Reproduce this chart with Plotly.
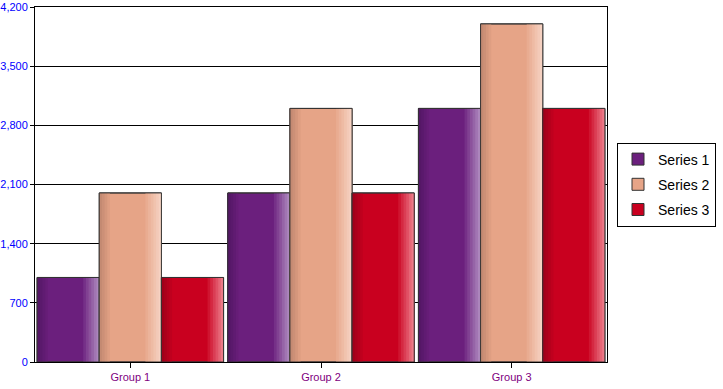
import plotly.graph_objects as go

categories = ["Group 1", "Group 2", "Group 3"]
series_names = ["Series 1", "Series 2", "Series 3"]
series1 = [1000, 2000, 3000]
series2 = [2000, 3000, 4000]
series3 = [1000, 2000, 3000]
y_ticks = [0, 700, 1400, 2100, 2800, 3500, 4200]

values = [series1, series2, series3]
main_colors = ["#6B1F7D", "#E6A487", "#C9001F"]
dark_colors = ["#551766", "#C48A72", "#A0001A"]
light_colors = ["#AC86BC", "#F6D2C2", "#EC7A88"]


def hex2rgb(h):
    h = h.lstrip("#")
    return tuple(int(h[k:k + 2], 16) for k in (0, 2, 4))


def mix(a, b, t):
    ra, rb = hex2rgb(a), hex2rgb(b)
    return "rgb(%d,%d,%d)" % tuple(round(ra[k] + (rb[k] - ra[k]) * t) for k in range(3))


bar_w = 0.326
start = -0.489
n_right = 6
n_left = 4
strip = 0.014
fig = go.Figure()
for i, (name, vals) in enumerate(zip(series_names, values)):
    off = start + i * bar_w
    fig.add_trace(go.Bar(x=categories, y=vals, name=name, width=bar_w, offset=off,
                         marker=dict(color=main_colors[i], line=dict(color="#333333", width=1)),
                         showlegend=True, legendgroup=name))
    # left darker gradient (widest/lightest first)
    for k in reversed(range(n_left)):
        t = 1 - k / n_left
        fig.add_trace(go.Bar(x=categories, y=vals, width=(k + 1) * strip, offset=off,
                             marker=dict(color=mix(main_colors[i], dark_colors[i], t), line=dict(width=0)),
                             showlegend=False, hoverinfo="skip", legendgroup=name))
    # right lighter gradient (widest/darkest first)
    for k in range(n_right):
        t = (k + 1) / n_right
        w = (n_right - k) * strip
        fig.add_trace(go.Bar(x=categories, y=vals, width=w, offset=off + bar_w - w,
                             marker=dict(color=mix(main_colors[i], light_colors[i], t), line=dict(width=0)),
                             showlegend=False, hoverinfo="skip", legendgroup=name))
    fig.add_trace(go.Bar(x=categories, y=vals, width=bar_w, offset=off,
                         marker=dict(color="rgba(0,0,0,0)", line=dict(color="#333333", width=1)),
                         showlegend=False, hoverinfo="skip", legendgroup=name))

fig.update_layout(
    barmode="overlay",
    width=723, height=389,
    margin=dict(l=35, r=116, t=7, b=27, autoexpand=False),
    paper_bgcolor="white", plot_bgcolor="white",
    font=dict(family="Liberation Sans, Arial, sans-serif"),
    showlegend=True,
    legend=dict(x=1.0175, y=0.5, xanchor="left", yanchor="middle",
                bordercolor="black", borderwidth=1, bgcolor="white",
                font=dict(size=14, color="black"), traceorder="grouped",
                tracegroupgap=4),
)
fig.update_xaxes(showline=True, linecolor="black", linewidth=1, mirror=True,
                 ticks="outside", ticklen=5, tickcolor="black", automargin=False,
                 tickfont=dict(size=11, color="#800080"), showgrid=False)
fig.update_yaxes(range=[0, 4200], tickvals=y_ticks, tickformat=",",
                 showline=True, linecolor="black", linewidth=1, mirror=True,
                 ticks="outside", ticklen=4, tickcolor="black", automargin=False,
                 showgrid=True, gridcolor="black", gridwidth=1, zeroline=False,
                 tickfont=dict(size=11, color="blue"))

fig.write_html("out.html", config={"displayModeBar": False},
               post_script="document.body.style.margin='0';document.body.style.overflow='hidden';")
